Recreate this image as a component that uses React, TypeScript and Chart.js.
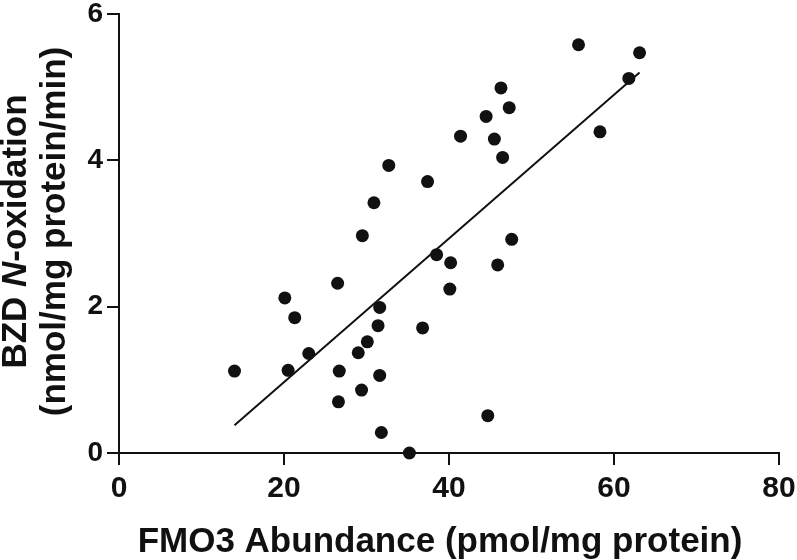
import React, { useEffect, useRef } from "react";
import { Chart, registerables } from "chart.js";

Chart.register(...registerables);

// FMO3 abundance (pmol/mg protein)
const fmo3Abundance = [
  14.0, 20.1, 20.5, 21.3, 23.0, 26.5, 26.7, 26.6, 29.0, 29.4,
  29.5, 30.1, 30.9, 31.4, 31.6, 31.6, 31.8, 32.7, 35.2, 36.8,
  37.4, 38.5, 40.1, 40.2, 41.4, 44.5, 44.7, 45.5, 45.9, 46.3,
  46.5, 47.3, 47.6, 55.7, 58.3, 61.8, 63.1,
];
// BZD N-oxidation (nmol/mg protein/min)
const bzdNOxidation = [
  1.12, 2.12, 1.13, 1.85, 1.36, 2.32, 1.12, 0.70, 1.37, 0.86,
  2.97, 1.52, 3.42, 1.74, 1.99, 1.06, 0.28, 3.93, 0.0, 1.71,
  3.71, 2.71, 2.24, 2.60, 4.33, 4.60, 0.51, 4.29, 2.57, 4.99,
  4.04, 4.72, 2.92, 5.58, 4.39, 5.12, 5.47,
];
// Regression line end points
const fitLineX = [14.0, 63.1];
const fitLineY = [0.38, 5.2];

const xTicks = [0, 20, 40, 60, 80];
const yTicks = [0, 2, 4, 6];

const xTitle = "FMO3 Abundance (pmol/mg protein)";
const yTitleLine1 = [
  { text: "BZD ", italic: false },
  { text: "N", italic: true },
  { text: "-oxidation", italic: false },
];
const yTitleLine2 = "(nmol/mg protein/min)";

const FONT = '"Liberation Sans", Arial, Helvetica, sans-serif';
const INK = "#111111";

const titlePlugin = {
  id: "axisTitles",
  afterDraw(chart: any) {
    const ctx = chart.ctx as CanvasRenderingContext2D;
    const area = chart.chartArea;
    ctx.save();
    ctx.fillStyle = INK;
    ctx.textBaseline = "alphabetic";

    // X title
    ctx.font = `bold 35px ${FONT}`;
    ctx.textAlign = "center";
    ctx.fillText(xTitle, (area.left + area.right) / 2 - 9, chart.height - 8);

    // Y title (rotated, two lines)
    const cy = (area.top + area.bottom) / 2 - 2;
    ctx.translate(0, cy);
    ctx.rotate(-Math.PI / 2);
    ctx.textAlign = "left";
    const fontOf = (it: boolean) => `${it ? "italic " : ""}bold 35px ${FONT}`;
    let total = 0;
    for (const s of yTitleLine1) {
      ctx.font = fontOf(s.italic);
      total += ctx.measureText(s.text).width;
    }
    let x = -total / 2;
    for (const s of yTitleLine1) {
      ctx.font = fontOf(s.italic);
      ctx.fillText(s.text, x, 26);
      x += ctx.measureText(s.text).width;
    }
    ctx.font = fontOf(false);
    ctx.textAlign = "center";
    ctx.fillText(yTitleLine2, 0, 65);
    ctx.restore();
  },
};

export default function App() {
  const canvasRef = useRef<HTMLCanvasElement | null>(null);

  useEffect(() => {
    const canvas = canvasRef.current;
    if (!canvas) return;
    const points = fmo3Abundance.map((x, i) => ({ x, y: bzdNOxidation[i] }));
    const fit = fitLineX.map((x, i) => ({ x, y: fitLineY[i] }));

    const chart = new Chart(canvas, {
      type: "scatter",
      data: {
        datasets: [
          {
            type: "line",
            data: fit,
            borderColor: INK,
            borderWidth: 2,
            pointRadius: 0,
            fill: false,
            clip: false,
          } as any,
          {
            data: points,
            backgroundColor: INK,
            borderColor: INK,
            pointRadius: 6.5,
            pointBorderWidth: 0,
            clip: false,
          } as any,
        ],
      },
      plugins: [titlePlugin],
      options: {
        animation: false,
        responsive: false,
        devicePixelRatio: 1,
        events: [],
        layout: { padding: { top: 14, right: 18, left: 0, bottom: 0 } },
        plugins: {
          legend: { display: false },
          tooltip: { enabled: false },
        },
        scales: {
          x: {
            type: "linear",
            min: 0,
            max: 80,
            afterBuildTicks: (scale: any) => {
              scale.ticks = xTicks.map((v) => ({ value: v }));
            },
            afterFit: (scale: any) => {
              scale.height = 107;
              scale.paddingLeft = 0;
              scale.paddingRight = 0;
            },
            ticks: {
              color: INK,
              padding: 9,
              maxRotation: 0,
              autoSkip: false,
              font: { family: FONT, size: 30, weight: "bold", lineHeight: 1 },
            },
            grid: {
              drawOnChartArea: false,
              drawTicks: true,
              tickLength: 12,
              color: INK,
              lineWidth: 2,
            },
            border: { display: true, color: INK, width: 2 },
          },
          y: {
            type: "linear",
            min: 0,
            max: 6,
            afterBuildTicks: (scale: any) => {
              scale.ticks = yTicks.map((v) => ({ value: v }));
            },
            afterFit: (scale: any) => {
              scale.width = 119;
              scale.paddingTop = 0;
              scale.paddingBottom = 0;
            },
            ticks: {
              color: INK,
              padding: 4,
              autoSkip: false,
              font: { family: FONT, size: 28, weight: "bold", lineHeight: 1 },
            },
            grid: {
              drawOnChartArea: false,
              drawTicks: true,
              tickLength: 12,
              color: INK,
              lineWidth: 2,
            },
            border: { display: true, color: INK, width: 2 },
          },
        },
      } as any,
    });
    return () => chart.destroy();
  }, []);

  return (
    <div
      style={{
        position: "fixed",
        left: 0,
        top: 0,
        width: 797,
        height: 560,
        background: "#ffffff",
      }}
    >
      <canvas ref={canvasRef} width={797} height={560} />
    </div>
  );
}
